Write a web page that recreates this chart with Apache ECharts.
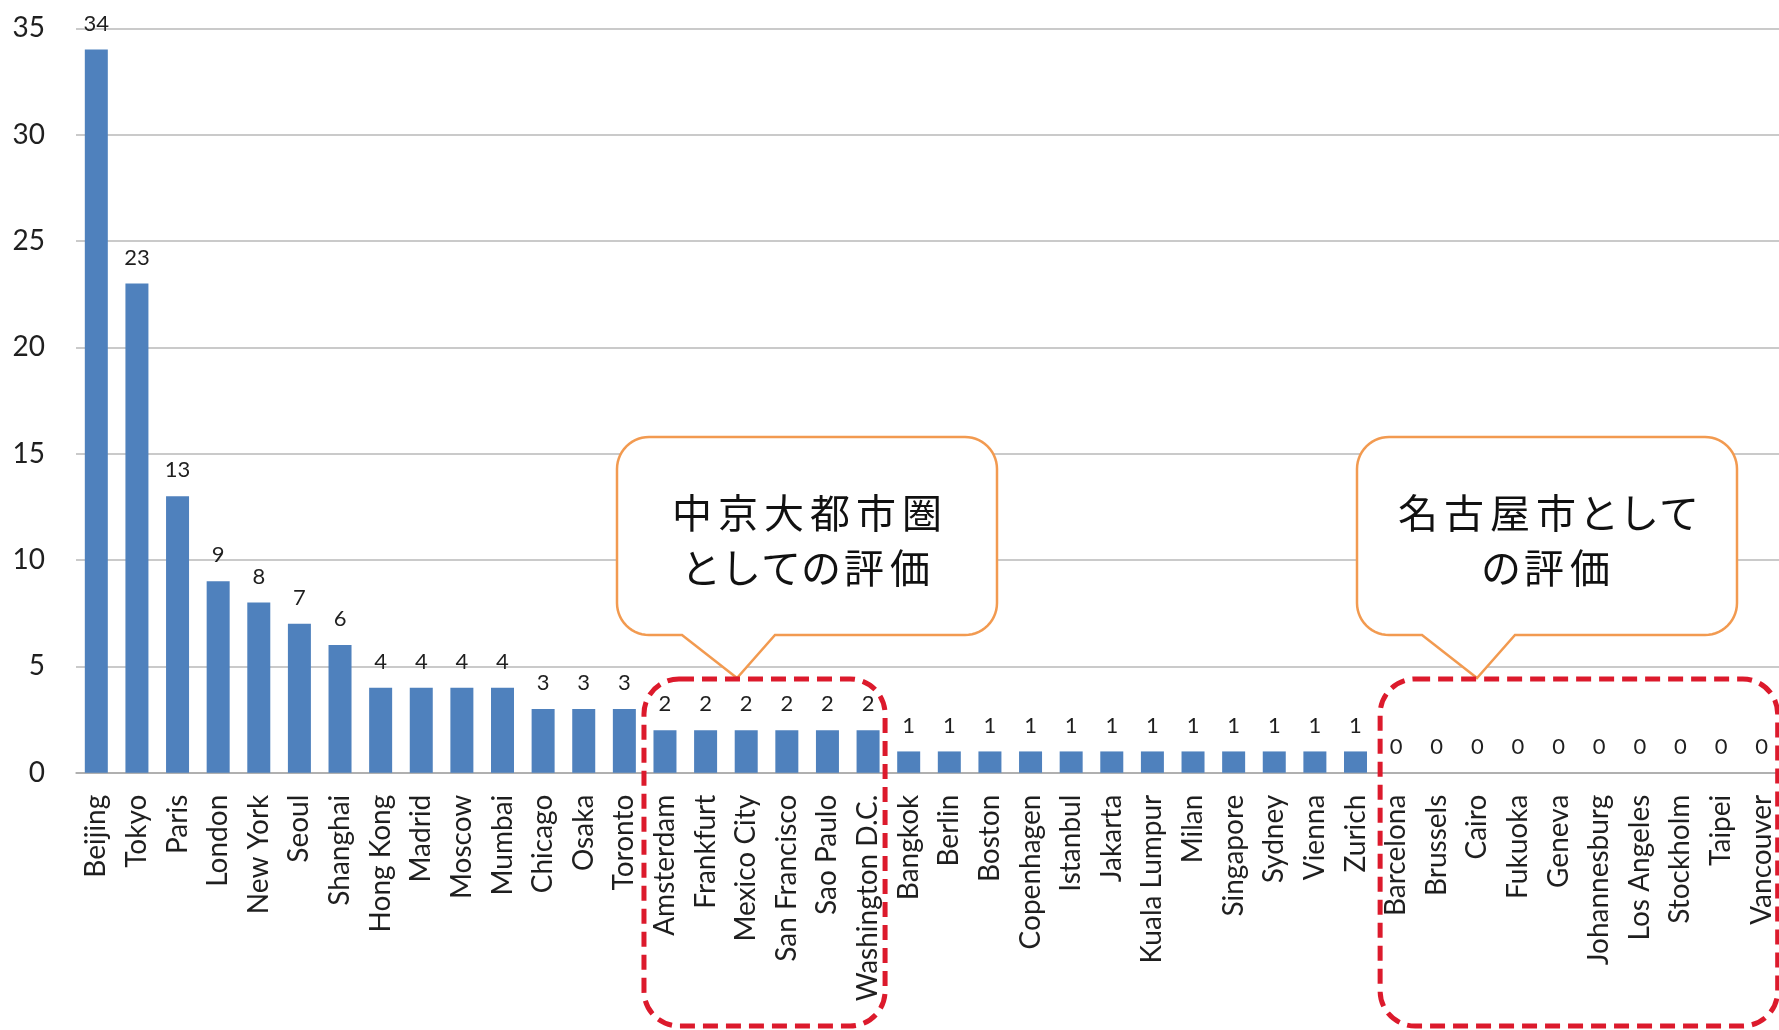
<!DOCTYPE html>
<html>
<head>
<meta charset="utf-8">
<script src="https://cdn.jsdelivr.net/npm/echarts@6/dist/echarts.min.js"></script>
<style>
html,body{margin:0;padding:0;overflow:hidden;background:#ffffff;}
#c{width:1782px;height:1030px;}
</style>
</head>
<body>
<div id="c"></div>
<script>
// ---- data ----
const cities = ['Beijing','Tokyo','Paris','London','New York','Seoul','Shanghai','Hong Kong','Madrid','Moscow','Mumbai','Chicago','Osaka','Toronto',
  'Amsterdam','Frankfurt','Mexico City','San Francisco','Sao Paulo','Washington D.C.',
  'Bangkok','Berlin','Boston','Copenhagen','Istanbul','Jakarta','Kuala Lumpur','Milan','Singapore','Sydney','Vienna','Zurich',
  'Barcelona','Brussels','Cairo','Fukuoka','Geneva','Johannesburg','Los Angeles','Stockholm','Taipei','Vancouver'];
const values = [34,23,13,9,8,7,6,4,4,4,4,3,3,3,
  2,2,2,2,2,2,
  1,1,1,1,1,1,1,1,1,1,1,1,
  0,0,0,0,0,0,0,0,0,0];
const yTicks = [0,5,10,15,20,25,30,35];
const callout1Lines = ['中京大都市圏','としての評価'];
const callout2Lines = ['名古屋市として','の評価'];
const group1 = ['Amsterdam','Washington D.C.'];
const group2 = ['Barcelona','Vancouver'];

// ---- chart ----
const chart = echarts.init(document.getElementById('c'), null, {renderer:'canvas'});
const LATIN = 'Lato, "Liberation Sans", sans-serif';
const CJK = '"Noto Sans CJK JP", sans-serif';

chart.setOption({
  animation:false,
  backgroundColor:'#ffffff',
  grid:{left:76, right:0, top:28.3, bottom:257.3, containLabel:false, outerBoundsMode:'none'},
  xAxis:{
    type:'category', data:cities,
    axisTick:{show:false},
    axisLine:{show:true, lineStyle:{color:'#a8a8a8', width:1.5}},
    axisLabel:{rotate:90, interval:0, margin:22, fontFamily:LATIN, fontSize:28, color:'#1f1f1f'}
  },
  yAxis:{
    type:'value', min:yTicks[0], max:yTicks[yTicks.length-1], interval:yTicks[1]-yTicks[0],
    axisLine:{show:false}, axisTick:{show:false},
    splitLine:{show:true, lineStyle:{color:'#b8b8b8', width:1.5}},
    axisLabel:{margin:31, fontFamily:LATIN, fontSize:28, color:'#1f1f1f'}
  },
  series:[{
    type:'bar', data:values, barWidth:23,
    itemStyle:{color:'#4F81BD'},
    label:{show:true, position:'top', distance:15, fontFamily:LATIN, fontSize:22, color:'#1f1f1f'}
  }]
});

// ---- annotations ----
function arcPts(cx,cy,r,a0,a1,n){
  const p=[];
  for(let i=0;i<=n;i++){const a=(a0+(a1-a0)*i/n)*Math.PI/180;p.push([cx+r*Math.cos(a),cy+r*Math.sin(a)]);}
  return p;
}
function calloutPoints(b){
  let p=[];
  p=p.concat(arcPts(b.x1-b.r,b.y0+b.r,b.r,-90,0,14));
  p=p.concat(arcPts(b.x1-b.r,b.y1-b.r,b.r,0,90,14));
  p.push([b.br,b.y1],[b.tx,b.ty],[b.bl,b.y1]);
  p=p.concat(arcPts(b.x0+b.r,b.y1-b.r,b.r,90,180,14));
  p=p.concat(arcPts(b.x0+b.r,b.y0+b.r,b.r,180,270,14));
  return p;
}
function richText(lines){
  return lines.map(l=>Array.from(l).map(ch=>/[\u3040-\u309f]/.test(ch)?'{h|'+ch+'}':'{k|'+ch+'}').join('')).join('\n');
}
const richStyles = {
  k:{fontSize:40, fontFamily:CJK, fill:'#111111', color:'#111111', padding:[0,3], lineHeight:55},
  h:{fontSize:40, fontFamily:CJK, fill:'#111111', color:'#111111', padding:[0,0], lineHeight:55}
};

const px = name => chart.convertToPixel({xAxisIndex:0}, name);
const r1x0 = px(group1[0]) - 21, r1x1 = px(group1[1]) + 17;
const r2x0 = px(group2[0]) - 16, r2x1 = px(group2[1]) + 16;
const rTop = 679, rBot = 1026;

const c1 = {x0:617, y0:437, x1:997, y1:635, r:32, bl:682, br:775, tx:737, ty:678};
const c2 = {x0:1357, y0:437, x1:1737, y1:635, r:32, bl:1422, br:1515, tx:1477, ty:678};

const dashStyle = {fill:'none', stroke:'#DC1A2C', lineWidth:5, lineDash:[15,8]};
const calloutStyle = {fill:'#ffffff', stroke:'#F29A50', lineWidth:2.5};

chart.setOption({
  graphic:[
    {type:'polygon', z:50, shape:{points:calloutPoints(c1)}, style:calloutStyle},
    {type:'polygon', z:50, shape:{points:calloutPoints(c2)}, style:calloutStyle},
    {type:'text', z:51, x:(c1.x0+c1.x1)/2, y:540, style:{text:richText(callout1Lines), rich:richStyles, align:'center', verticalAlign:'middle', fontSize:40, fontFamily:CJK, fill:'#111111'}},
    {type:'text', z:51, x:(c2.x0+c2.x1)/2, y:540, style:{text:richText(callout2Lines), rich:richStyles, align:'center', verticalAlign:'middle', fontSize:40, fontFamily:CJK, fill:'#111111'}},
    {type:'rect', z:60, shape:{x:r1x0, y:rTop, width:r1x1-r1x0, height:rBot-rTop, r:35}, style:dashStyle},
    {type:'rect', z:60, shape:{x:r2x0, y:rTop, width:r2x1-r2x0, height:rBot-rTop, r:35}, style:dashStyle}
  ]
});
</script>
</body>
</html>
